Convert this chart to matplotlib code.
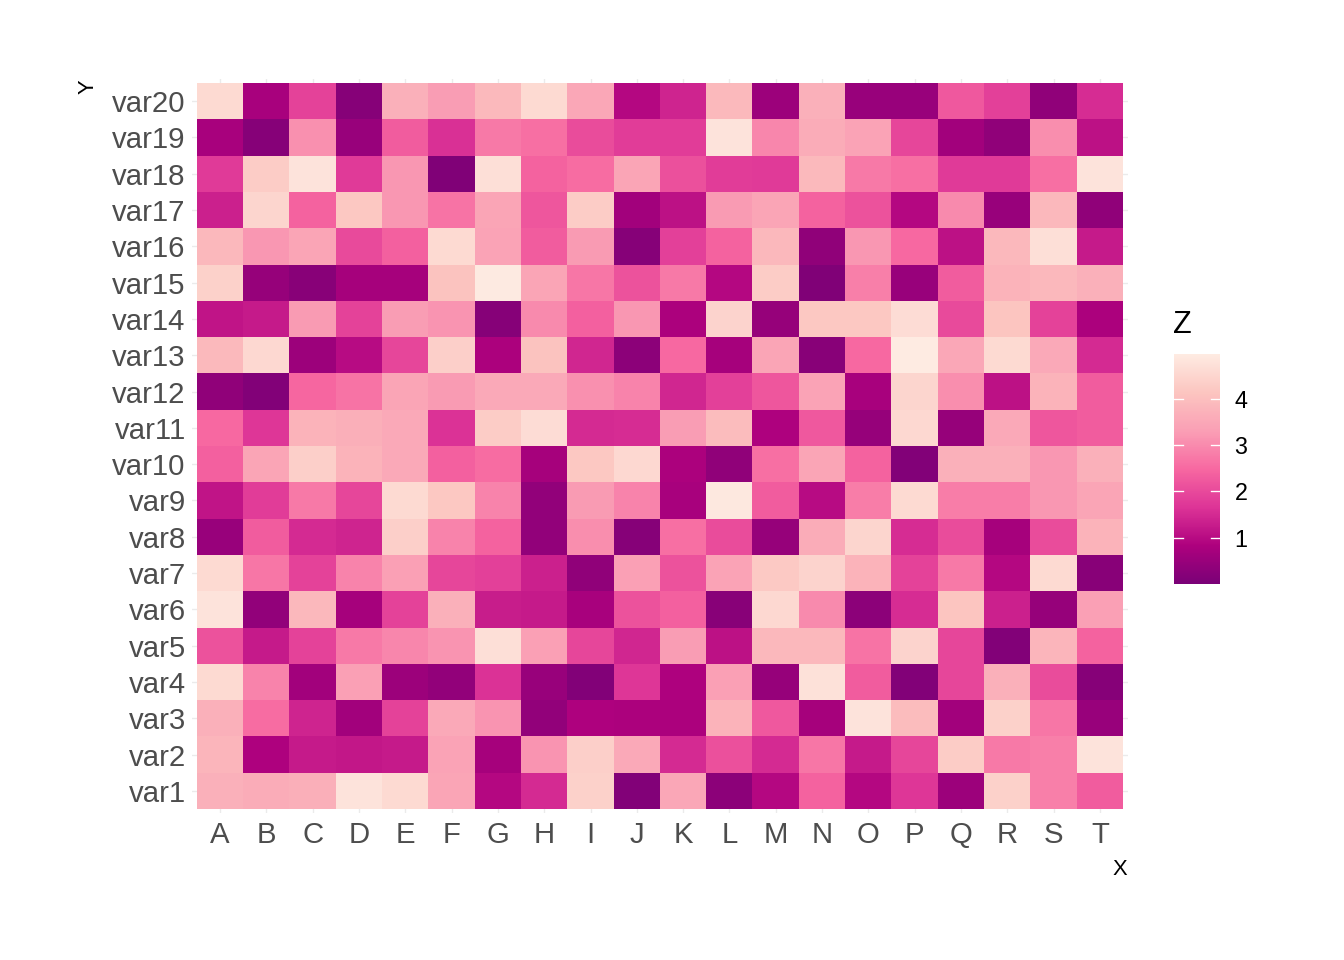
import matplotlib

matplotlib.use("Agg")
import matplotlib.pyplot as plt
import numpy as np
from matplotlib.colors import LinearSegmentedColormap, Normalize


# columns A..T, rows var1..var20
X_LABELS = list("ABCDEFGHIJKLMNOPQRST")
Y_LABELS = [f"var{i}" for i in range(1, 21)]

Z_VAR1 = [3.70, 3.60, 3.65, 4.80, 4.60, 3.45, 0.95, 1.50, 4.40, 0.15,
          3.50, 0.30, 0.95, 2.40, 0.95, 1.70, 0.55, 4.40, 2.85, 2.30]
Z_VAR2 = [3.80, 0.85, 1.25, 1.20, 1.25, 3.40, 0.70, 3.15, 4.35, 3.55,
          1.50, 2.10, 1.50, 2.70, 1.25, 1.95, 4.30, 2.75, 2.85, 4.80]
Z_VAR3 = [3.70, 2.55, 1.40, 0.65, 1.90, 3.55, 3.15, 0.40, 0.85, 0.80,
          0.80, 3.75, 2.25, 0.70, 4.80, 3.95, 0.65, 4.40, 2.70, 0.50]
Z_VAR4 = [4.60, 2.90, 0.65, 3.35, 0.55, 0.40, 1.65, 0.50, 0.15, 1.70,
          0.85, 3.35, 0.45, 4.75, 2.30, 0.15, 1.95, 3.70, 2.05, 0.20]
Z_VAR5 = [2.15, 1.25, 1.90, 2.75, 2.95, 3.15, 4.70, 3.35, 1.95, 1.45,
          3.30, 1.10, 3.85, 3.85, 2.65, 4.45, 1.95, 0.15, 3.80, 2.40]
Z_VAR6 = [4.80, 0.40, 3.85, 0.70, 1.90, 3.70, 1.30, 1.25, 0.75, 2.15,
          2.35, 0.25, 4.55, 3.00, 0.30, 1.55, 4.15, 1.35, 0.45, 3.35]
Z_VAR7 = [4.60, 2.70, 1.90, 2.90, 3.35, 1.95, 1.85, 1.35, 0.35, 3.35,
          2.15, 3.40, 4.25, 4.45, 3.75, 1.90, 2.75, 0.95, 4.60, 0.25]
Z_VAR8 = [0.50, 2.30, 1.50, 1.40, 4.35, 2.90, 2.40, 0.40, 3.05, 0.20,
          2.60, 2.05, 0.45, 3.60, 4.50, 1.55, 2.05, 0.70, 2.05, 3.75]
Z_VAR9 = [1.15, 1.80, 2.75, 1.95, 4.60, 4.20, 2.90, 0.40, 3.25, 2.90,
          0.75, 4.90, 2.30, 1.00, 2.80, 4.60, 2.80, 2.80, 3.20, 3.45]
Z_VAR10 = [2.35, 3.45, 4.35, 3.75, 3.55, 2.35, 2.55, 0.70, 4.20, 4.55,
           0.80, 0.35, 2.60, 3.45, 2.40, 0.15, 3.70, 3.70, 3.20, 3.70]
Z_VAR11 = [2.50, 1.70, 3.75, 3.65, 3.55, 1.65, 4.30, 4.65, 1.50, 1.55,
           3.30, 3.95, 0.85, 2.25, 0.45, 4.55, 0.45, 3.55, 2.20, 2.30]
Z_VAR12 = [0.35, 0.15, 2.45, 2.65, 3.45, 3.25, 3.55, 3.55, 3.10, 2.90,
           1.45, 1.85, 2.20, 3.40, 0.75, 4.50, 3.05, 1.10, 3.75, 2.30]
Z_VAR13 = [3.90, 4.55, 0.55, 1.00, 1.95, 4.35, 0.80, 4.10, 1.45, 0.30,
           2.50, 0.70, 3.45, 0.25, 2.50, 4.97, 3.50, 4.60, 3.55, 1.50]
Z_VAR14 = [1.15, 1.25, 3.25, 1.90, 3.30, 3.15, 0.20, 3.00, 2.35, 3.20,
           0.80, 4.45, 0.45, 4.20, 4.20, 4.65, 2.00, 4.15, 1.90, 0.80]
Z_VAR15 = [4.40, 0.45, 0.25, 0.70, 0.70, 4.10, 4.95, 3.45, 2.70, 2.15,
           2.75, 0.95, 4.30, 0.10, 2.85, 0.50, 2.30, 3.75, 3.85, 3.70]
Z_VAR16 = [3.85, 3.20, 3.45, 2.00, 2.35, 4.60, 3.40, 2.30, 3.25, 0.20,
           1.85, 2.40, 3.85, 0.35, 3.20, 2.50, 1.10, 3.85, 4.70, 1.25]
Z_VAR17 = [1.35, 4.50, 2.40, 4.20, 3.20, 2.65, 3.45, 2.20, 4.30, 0.65,
           1.10, 3.25, 3.45, 2.40, 2.15, 0.95, 3.00, 0.50, 3.85, 0.35]
Z_VAR18 = [1.75, 4.30, 4.80, 1.75, 3.20, 0.10, 4.70, 2.40, 2.55, 3.45,
           2.10, 1.80, 1.75, 3.90, 2.75, 2.60, 1.75, 1.75, 2.60, 4.80]
Z_VAR19 = [0.75, 0.20, 3.10, 0.50, 2.30, 1.60, 2.75, 2.60, 2.05, 1.80,
           1.80, 4.80, 2.95, 3.60, 3.40, 1.95, 0.65, 0.35, 3.05, 1.10]
Z_VAR20 = [4.60, 0.75, 1.90, 0.20, 3.70, 3.30, 3.90, 4.60, 3.50, 0.95,
           1.40, 3.90, 0.55, 3.70, 0.50, 0.50, 2.25, 1.85, 0.35, 1.55]

Z_ROWS = [Z_VAR1, Z_VAR2, Z_VAR3, Z_VAR4, Z_VAR5, Z_VAR6, Z_VAR7, Z_VAR8, Z_VAR9, Z_VAR10,
          Z_VAR11, Z_VAR12, Z_VAR13, Z_VAR14, Z_VAR15, Z_VAR16, Z_VAR17, Z_VAR18, Z_VAR19, Z_VAR20]
Z_LIMITS = (0.0, 4.97)
LEGEND_TICKS = [1, 2, 3, 4]

# brewer RdPu, 7 classes, reversed (dark = low)
RDPU_7 = ["#7A0177", "#AE017E", "#DD3497", "#F768A1", "#FA9FB5", "#FCC5C0", "#FEEBE2"]

plt.rcParams["font.family"] = ["Liberation Sans", "DejaVu Sans"]

W, H = 1344, 960
fig = plt.figure(figsize=(W / 96, H / 96), dpi=96)


def box(x0, y0, x1, y1):
    return [x0 / W, 1 - y1 / H, (x1 - x0) / W, (y1 - y0) / H]


cmap = LinearSegmentedColormap.from_list("rdpu_r", RDPU_7)
norm = Normalize(*Z_LIMITS)
z = np.array(Z_ROWS)

ax = fig.add_axes(box(192.4, 79.4, 1127.6, 812.6))
ax.imshow(z, cmap=cmap, norm=norm, origin="lower", aspect="auto",
          extent=(-0.5, len(X_LABELS) - 0.5, -0.5, len(Y_LABELS) - 0.5), zorder=2)
ax.set_xlim(-0.6, len(X_LABELS) - 0.4)
ax.set_ylim(-0.6, len(Y_LABELS) - 0.4)
ax.set_xticks(range(len(X_LABELS)))
ax.set_xticklabels(X_LABELS)
ax.set_yticks(range(len(Y_LABELS)))
ax.set_yticklabels(Y_LABELS)
ax.grid(True, color="#EBEBEB", linewidth=1.0, zorder=0)
ax.set_axisbelow(True)
for s in ax.spines.values():
    s.set_visible(False)
ax.tick_params(length=0, labelsize=22, labelcolor="#4D4D4D")
ax.tick_params(axis="x", pad=6)
ax.tick_params(axis="y", pad=5)
ax.set_xlabel("X", fontsize=16.5, loc="right", labelpad=8)
ax.set_ylabel("Y", fontsize=16.5, loc="top", labelpad=10)

# colour bar legend
cax = fig.add_axes(box(1174, 354, 1220, 584))
cb = fig.colorbar(plt.cm.ScalarMappable(norm=norm, cmap=cmap), cax=cax)
cb.outline.set_visible(False)
cb.set_ticks(LEGEND_TICKS)
cax.tick_params(length=0, labelsize=17.5, pad=11, labelcolor="black")
for t in LEGEND_TICKS:
    cax.plot([0, 0.2], [t, t], color="white", lw=1.0, transform=cax.get_yaxis_transform())
    cax.plot([0.8, 1.0], [t, t], color="white", lw=1.0, transform=cax.get_yaxis_transform())
fig.text(1173 / W, 1 - 325 / H, "Z", fontsize=23, va="center", ha="left")

fig.savefig("out.png", dpi=96, facecolor="white")
